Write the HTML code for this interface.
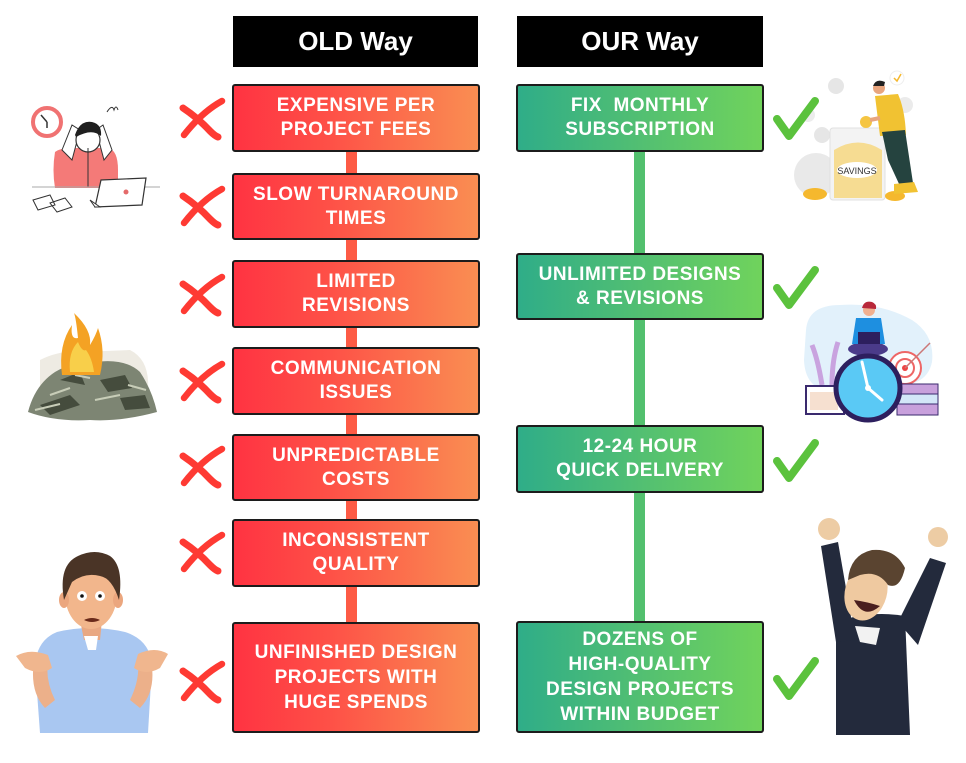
<!DOCTYPE html>
<html><head><meta charset="utf-8"><style>
html,body{margin:0;padding:0;background:#fff;}
body{width:966px;height:763px;position:relative;overflow:hidden;font-family:"Liberation Sans",Arial,sans-serif;}
.hdr{position:absolute;top:16px;height:51px;background:#000;color:#fff;font-weight:bold;font-size:26px;display:flex;align-items:center;justify-content:center;}
.box{position:absolute;box-sizing:border-box;border:2px solid #1c1c1c;border-radius:3px;color:#fff;font-weight:bold;font-size:19px;letter-spacing:0.5px;text-align:center;display:flex;align-items:center;justify-content:center;line-height:24px;}
.r{left:232px;width:248px;background:linear-gradient(90deg,#ff3342 0%,#fe5147 40%,#f98e52 100%);}
.g{left:516px;width:248px;background:linear-gradient(90deg,#2fad88 0%,#52bf72 50%,#70d35c 100%);}
.l25{line-height:25px;}
svg{position:absolute;left:0;top:0;}
</style></head><body>
<svg width="966" height="763" viewBox="0 0 966 763">
<defs>
<g id="xm"><path d="M3,8 Q18,18 30,31 Q35,36 38,37" stroke="#fe3a33" stroke-width="7" fill="none" stroke-linecap="round"/><path d="M42,1 Q22,12 4,35" stroke="#fe3a33" stroke-width="6.5" fill="none" stroke-linecap="round"/></g>
<g id="ck"><path d="M4,21 L16,38 L42,3" stroke="#5bc23d" stroke-width="8" fill="none" stroke-linecap="round" stroke-linejoin="round"/></g>
</defs>
<!-- connectors -->
<rect x="346" y="150" width="11" height="474" fill="#fd5b45"/>
<rect x="634" y="150" width="11" height="473" fill="#53c06e"/>
<!-- x marks -->
<use href="#xm" x="180" y="100"/><use href="#xm" x="180" y="188"/><use href="#xm" x="180" y="276"/><use href="#xm" x="180" y="363"/><use href="#xm" x="180" y="448"/><use href="#xm" x="180" y="534"/><use href="#xm" x="180" y="663"/>

<!-- stressed person -->
<circle cx="47" cy="122" r="14" fill="#fff" stroke="#f07272" stroke-width="4"/>
<path d="M47,122 L41,115 M47,122 L47,128" stroke="#333" stroke-width="1.5"/>
<path d="M55,152 Q60,148 72,148 L108,148 Q118,150 118,170 L118,188 L55,188 Q52,170 55,152Z" fill="#f47a78"/>
<path d="M62,150 L72,125 L80,130 L72,160Z M112,150 L103,125 L96,130 L104,160Z" fill="#fff" stroke="#333" stroke-width="1"/>
<circle cx="88" cy="140" r="12" fill="#fff" stroke="#333" stroke-width="1.2"/>
<path d="M75,135 Q80,120 92,122 Q102,124 101,136 Q92,128 76,137Z" fill="#1f1f1f"/>
<path d="M88,148 L88,187" stroke="#333" stroke-width="1"/>
<line x1="32" y1="187" x2="160" y2="187" stroke="#aaa" stroke-width="1"/>
<path d="M101,180 L146,178 L142,205 L95,207Z" fill="#fff" stroke="#333" stroke-width="1.2"/>
<path d="M90,200 L100,207 L95,207Z" fill="#fff" stroke="#333"/>
<circle cx="126" cy="192" r="2.5" fill="#e46a6a"/>
<path d="M33,200 L50,195 L55,205 L38,210Z M50,203 L65,198 L72,207 L57,212Z" fill="#fff" stroke="#333" stroke-width="1"/>
<path d="M107,112 Q112,104 114,110 Q116,104 118,110" stroke="#333" fill="none" stroke-width="1"/>

<!-- burning money -->
<path d="M40,360 Q60,350 80,352 L130,350 Q150,360 148,390 L40,395Z" fill="#eeebe3"/>
<path d="M28,412 Q35,385 55,372 Q75,360 95,362 Q125,358 140,372 Q152,390 157,412 Q120,422 90,420 Q55,422 28,412Z" fill="#7d8573"/>
<path d="M40,405 L70,395 L80,405 L50,415Z M100,380 L125,375 L132,388 L108,392Z M60,380 L80,372 L85,385Z M120,398 L145,395 L150,408 L125,410Z" fill="#454c3d"/>
<path d="M50,395 L70,388 M95,400 L120,395 M75,375 L90,378 M35,410 L60,404 M128,385 L146,390" stroke="#c8cdb8" stroke-width="2"/>
<path d="M62,375 Q58,345 72,325 Q70,340 78,338 Q76,318 74,313 Q92,330 90,345 Q96,335 98,328 Q106,350 100,375Z" fill="#f4a224"/>
<path d="M70,372 Q68,352 78,342 Q82,352 86,350 Q92,358 94,372Z" fill="#f8cf4a"/>

<!-- confused man -->
<path d="M57,632 Q90,624 125,632 Q150,640 152,665 L148,733 L40,733 L35,665 Q37,640 57,632Z" fill="#a9c7f1"/>
<path d="M35,655 Q28,690 45,708 L55,700 Q45,680 48,660Z M150,655 Q158,690 140,708 L130,700 Q140,680 138,660Z" fill="#ecb08a"/>
<path d="M16,656 Q30,648 48,655 L52,668 Q40,676 25,668Z M168,654 Q155,646 138,654 L134,668 Q146,676 160,668Z" fill="#f0b68e"/>
<path d="M80,620 L102,620 L100,640 L84,640Z" fill="#e9a882"/>
<path d="M84,636 L98,636 L96,650 L88,650Z" fill="#fff"/>
<ellipse cx="91" cy="594" rx="26" ry="35" fill="#f2b68c"/>
<ellipse cx="64" cy="600" rx="5" ry="8" fill="#eba67e"/><ellipse cx="118" cy="600" rx="5" ry="8" fill="#eba67e"/>
<path d="M64,600 Q58,565 78,556 Q95,548 110,556 Q124,566 119,600 Q112,578 100,576 Q85,572 72,582Z" fill="#4a3426"/>
<circle cx="82" cy="596" r="5" fill="#fff"/><circle cx="100" cy="596" r="5" fill="#fff"/>
<circle cx="82" cy="596" r="1.8" fill="#111"/><circle cx="100" cy="596" r="1.8" fill="#111"/>
<path d="M84,620 Q92,616 100,620 Q92,624 84,620Z" fill="#6a2a1a"/>

<!-- savings -->
<circle cx="836" cy="86" r="8" fill="#e6e6e6"/><circle cx="808" cy="115" r="7" fill="#ececec"/><circle cx="822" cy="135" r="8" fill="#e6e6e6"/><circle cx="905" cy="105" r="8" fill="#ebebeb"/>
<ellipse cx="816" cy="175" rx="22" ry="22" fill="#e9e9e9"/>
<rect x="830" y="128" width="55" height="72" rx="3" fill="#f3f3f3" stroke="#e0e0e0"/>
<path d="M834,150 Q858,135 882,150 L882,198 L834,198Z" fill="#f6dc92"/>
<ellipse cx="857" cy="170" rx="20" ry="8" fill="#fff"/>
<text x="857" y="174" font-size="9" font-family="Liberation Sans Narrow, Liberation Sans, sans-serif" fill="#333" text-anchor="middle">SAVINGS</text>
<ellipse cx="815" cy="194" rx="12" ry="6" fill="#f5b82e"/><ellipse cx="895" cy="196" rx="10" ry="5" fill="#f5b82e"/>
<circle cx="866" cy="122" r="6" fill="#f5c542"/>
<path d="M875,96 L898,94 Q905,110 906,135 L880,136Z" fill="#f1c232"/>
<path d="M882,132 L905,130 L913,183 L900,186 L888,160Z" fill="#25433f"/>
<path d="M894,184 L914,182 L918,192 L894,194Z" fill="#f1c232"/>
<circle cx="879" cy="88" r="6" fill="#e8a57e"/><path d="M873,86 Q876,78 885,82 L884,86Z" fill="#222"/>
<path d="M870,120 L880,118" stroke="#e8a57e" stroke-width="4"/>
<circle cx="897" cy="78" r="7" fill="#fff" stroke="#eee"/><path d="M894,78 L897,81 L901,74" stroke="#f5b82e" stroke-width="1.5" fill="none"/>

<!-- clock illustration -->
<path d="M806,330 Q808,305 840,305 Q880,302 912,320 Q935,335 932,362 Q928,382 905,385 L830,392 Q805,388 804,360Z" fill="#e2f1fb"/>
<path d="M822,385 Q818,360 812,345 M832,385 Q832,360 838,342" stroke="#c9a3df" stroke-width="5" fill="none"/>
<circle cx="905" cy="368" r="16" fill="#fff" stroke="#e66" stroke-width="2"/><circle cx="905" cy="368" r="9" fill="none" stroke="#e66" stroke-width="2"/><circle cx="905" cy="368" r="3" fill="#e44"/>
<path d="M905,368 L930,343" stroke="#c77" stroke-width="1.5"/>
<rect x="806" y="386" width="38" height="28" fill="#fff" stroke="#3a2a6e" stroke-width="2"/>
<rect x="810" y="392" width="28" height="18" fill="#f6e0d0"/>
<rect x="897" y="384" width="41" height="10" fill="#c8a0dc" stroke="#3a2a6e"/><rect x="897" y="394" width="41" height="10" fill="#d3e6f8" stroke="#3a2a6e"/><rect x="897" y="404" width="41" height="11" fill="#c8a0dc" stroke="#3a2a6e"/>
<ellipse cx="868" cy="349" rx="20" ry="7" fill="#4b3b8a"/>
<path d="M856,318 L881,318 L885,344 L852,344Z" fill="#1e8fe0"/>
<rect x="858" y="332" width="22" height="12" fill="#2d1f5e"/>
<circle cx="869" cy="310" r="6" fill="#f0b090"/><path d="M862,308 Q864,300 872,302 Q877,304 876,309Z" fill="#b8283a"/>
<circle cx="868" cy="388" r="32" fill="#5ac9f5" stroke="#2d1f5e" stroke-width="5"/>
<path d="M868,388 L862,362 M868,388 L882,400" stroke="#fff" stroke-width="3" stroke-linecap="round"/>
<circle cx="868" cy="388" r="3" fill="#fff"/>

<!-- happy man -->
<path d="M836,622 Q870,610 905,616 L910,735 L836,735Z" fill="#232a3c"/>
<path d="M821,546 L838,542 L855,640 L836,642Z" fill="#232a3c"/>
<path d="M898,622 L930,558 L946,563 L918,645Z" fill="#232a3c"/>
<circle cx="829" cy="529" r="11" fill="#edcca4"/>
<circle cx="938" cy="537" r="10" fill="#edcca4"/>
<path d="M855,626 L880,628 L876,645 L860,642Z" fill="#f2f2f2"/>
<ellipse cx="866" cy="592" rx="21" ry="29" fill="#efc9a0" transform="rotate(15 866 592)"/>
<path d="M848,580 Q850,555 872,550 Q895,548 905,568 Q900,590 888,585 Q878,570 860,575Z" fill="#5a4430"/>
<path d="M854,600 Q864,620 880,606 Q868,602 854,600Z" fill="#4a1e1e"/>

<!-- checks (on top) -->
<use href="#ck" x="773" y="98"/><use href="#ck" x="773" y="267"/><use href="#ck" x="773" y="440"/><use href="#ck" x="773" y="658"/>
</svg>

<div class="hdr" style="left:233px;width:245px;">OLD Way</div>
<div class="hdr" style="left:517px;width:246px;">OUR Way</div>

<div class="box r" style="top:84px;height:68px;">EXPENSIVE PER<br>PROJECT FEES</div>
<div class="box r" style="top:173px;height:67px;">SLOW TURNAROUND<br>TIMES</div>
<div class="box r" style="top:260px;height:68px;">LIMITED<br>REVISIONS</div>
<div class="box r" style="top:347px;height:68px;">COMMUNICATION<br>ISSUES</div>
<div class="box r" style="top:434px;height:67px;">UNPREDICTABLE<br>COSTS</div>
<div class="box r" style="top:519px;height:68px;">INCONSISTENT<br>QUALITY</div>
<div class="box r l25" style="top:622px;height:111px;">UNFINISHED DESIGN<br>PROJECTS WITH<br>HUGE SPENDS</div>

<div class="box g" style="top:84px;height:68px;">FIX&nbsp; MONTHLY<br>SUBSCRIPTION</div>
<div class="box g" style="top:253px;height:67px;">UNLIMITED DESIGNS<br>&amp; REVISIONS</div>
<div class="box g" style="top:425px;height:68px;">12-24 HOUR<br>QUICK DELIVERY</div>
<div class="box g l25" style="top:621px;height:112px;">DOZENS OF<br>HIGH-QUALITY<br>DESIGN PROJECTS<br>WITHIN BUDGET</div>
</body></html>
